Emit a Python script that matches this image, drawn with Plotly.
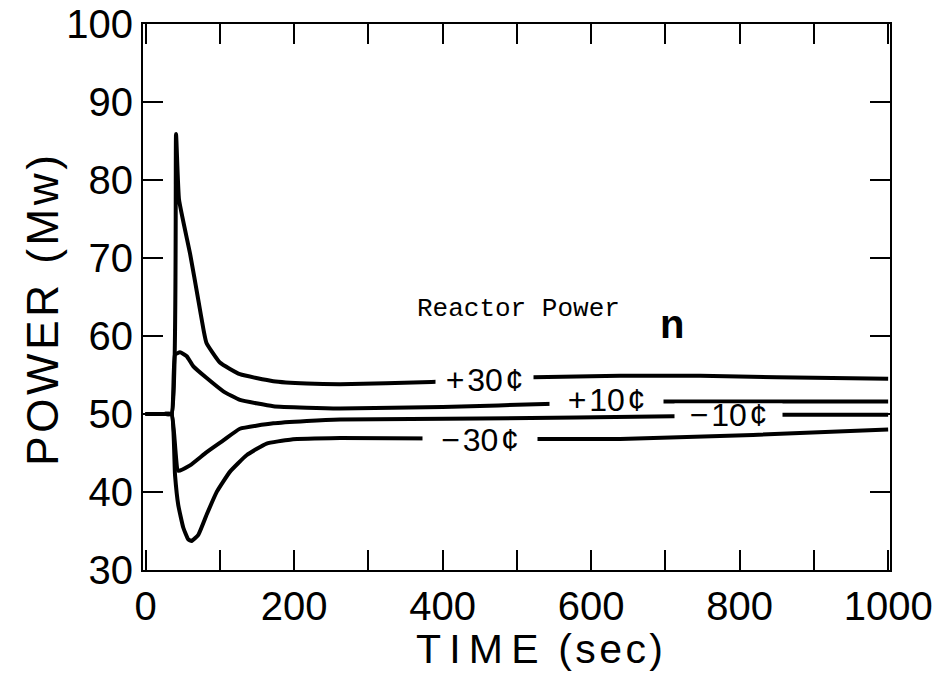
import plotly.graph_objects as go

# ---- data ----
t_p30 = [0, 25, 35, 41, 45, 60, 71, 78, 82, 100, 127, 172, 217, 262, 385, 450, 522, 639, 747, 850, 1000]
p_p30 = [50, 50, 50, 85.9, 77.5, 70.5, 64.6, 60.8, 59.1, 56.6, 55.1, 54.2, 53.9, 53.8, 54.1, 54.4, 54.7, 54.9, 54.9, 54.7, 54.5]

t_p10 = [0, 25, 35, 39.6, 46.3, 55.4, 64.3, 82.3, 104.7, 127, 172, 217, 262, 400, 550, 697, 850, 1000]
p_p10 = [50, 50, 50, 57.6, 57.9, 57.4, 56.1, 54.6, 52.9, 51.8, 51.0, 50.8, 50.7, 50.9, 51.3, 51.6, 51.6, 51.6]

t_m10 = [0, 25, 35, 44, 59.8, 82.3, 104.7, 127, 172, 217, 262, 450, 711, 857, 1000]
p_m10 = [50, 50, 50, 42.7, 43.4, 45.1, 46.6, 48.1, 48.8, 49.1, 49.3, 49.4, 49.7, 49.9, 49.9]

t_m30 = [0, 25, 35, 39.6, 44, 50.8, 57.5, 62, 71, 82.3, 95.8, 113.7, 136, 163, 194.5, 262, 527, 639, 818, 1000]
p_m30 = [50, 50, 50, 42.2, 38.3, 35.4, 33.9, 33.7, 34.5, 37.1, 40.0, 42.6, 44.7, 46.2, 46.7, 46.9, 46.8, 46.8, 47.3, 48.0]

series = [(t_p30, p_p30), (t_p10, p_p10), (t_m10, p_m10), (t_m30, p_m30)]

# curve labels: text, time, power, gap width (px)
label_text = ["+\u200a30\u200a¢", "+\u200a10\u200a¢", "\u2212\u200a10\u200a¢", "\u2212\u200a30\u200a¢"]
label_t = [456, 621, 785, 450]
label_p = [54.4, 51.85, 49.8, 46.6]
label_w = [97, 113, 107, 114]

x_ticks = list(range(0, 1001, 100))
x_ticktext = [str(v) if v % 200 == 0 else "" for v in x_ticks]
y_ticks = list(range(30, 101, 10))

fig = go.Figure()
for tx, py in series:
    fig.add_trace(go.Scatter(x=tx, y=py, mode="lines",
                             line=dict(color="black", width=4, shape="spline", smoothing=0.4),
                             showlegend=False, hoverinfo="skip"))

for txt, tt, pp, w in zip(label_text, label_t, label_p, label_w):
    fig.add_annotation(x=tt, y=pp, xref="x", yref="y", text=txt, showarrow=False,
                       font=dict(family="Liberation Sans", size=32, color="black"),
                       bgcolor="white", width=w, height=22, borderpad=0,
                       xanchor="center", yanchor="middle")

fig.add_annotation(x=0.503, y=0.478, xref="paper", yref="paper", text="Reactor Power",
                   showarrow=False, xanchor="center", yanchor="middle",
                   font=dict(family="Liberation Mono", size=26, color="black"))
fig.add_annotation(x=0.708, y=0.45, xref="paper", yref="paper", text="<b>n</b>",
                   showarrow=False, xanchor="center", yanchor="middle",
                   font=dict(family="Liberation Sans", size=40, color="black"))
fig.add_annotation(x=0.531, y=-0.145, xref="paper", yref="paper",
                   text="T\u2009I\u2009M\u2009E\u2009 (\u200as\u200ae\u200ac\u200a)",
                   showarrow=False, xanchor="center", yanchor="middle",
                   font=dict(family="Liberation Sans", size=41, color="black"))
fig.add_annotation(x=-0.135, y=0.475, xref="paper", yref="paper",
                   text="P\u200aO\u200aW\u200aE\u200aR\u2009 (\u200aM\u200aw\u200a)", textangle=-90,
                   showarrow=False, xanchor="center", yanchor="middle",
                   font=dict(family="Liberation Sans", size=44, color="black"))

axis_common = dict(showline=True, linecolor="black", linewidth=2, mirror="allticks",
                   ticks="inside", ticklen=20, tickwidth=1.5, tickcolor="black",
                   showgrid=False, zeroline=False, ticklabeloverflow="allow",
                   automargin=False,
                   tickfont=dict(family="Liberation Sans", size=40, color="black"))
fig.update_xaxes(range=[-3.5, 1002.5], tickvals=x_ticks, ticktext=x_ticktext, **axis_common)
fig.update_yaxes(range=[29.98, 100.02], tickvals=y_ticks, **axis_common)

fig.update_layout(width=936, height=683, margin=dict(l=143, r=46, t=24, b=113, autoexpand=False),
                  plot_bgcolor="white", paper_bgcolor="white")
fig.write_html("out.html")
